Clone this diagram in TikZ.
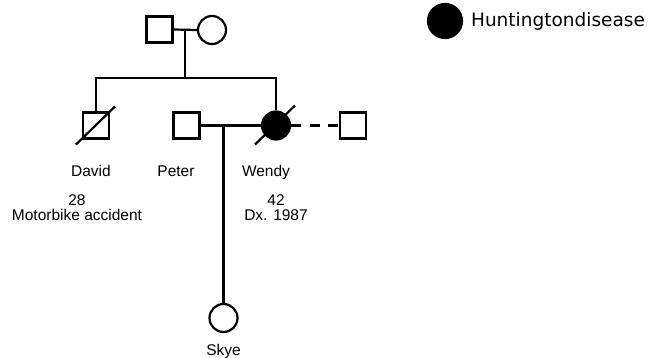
\documentclass[tikz,border=0pt]{standalone}
\usepackage{fontspec}
\setmainfont{Liberation Sans}
\newfontfamily\legendfont{DejaVu Sans}
\begin{document}
\begin{tikzpicture}[x=1pt,y=-1pt,line width=2.2pt,
        male/.style={draw,rectangle,minimum size=26pt,inner sep=0pt},
        female/.style={draw,circle,minimum size=28pt,inner sep=0pt},
        affected/.style={fill=black},
        namelabel/.style={font=\fontsize{15.5}{15}\selectfont,inner sep=0pt,anchor=base},
        infolabel/.style={font=\fontsize{15.5}{15}\selectfont,inner sep=0pt,anchor=north,align=center}]
    \useasboundingbox (0,0) rectangle (650,358);

    %Parents
    \node[male] (Father) at (159.5,29.5) {};
    \node[female] (Mother) at (212,30) {};
    \coordinate (Couple) at (185,30);
    \coordinate (Sibs) at (185,78);
    \draw (Father.east) -- (Mother.west);
    \draw (Couple) -- (Sibs);

    %Children
    \node[male] (David) at (96,125.5) {};
    \node[male] (Peter) at (186.5,125.5) {};
    \node[female,affected] (Wendy) at (276,125.5) {};
    \node[male] (Spouse) at (353,125.5) {};
    \draw (David.north) |- (Sibs) -| (Wendy.north);
    \draw ([shift={(-6,5)}]David.south west) -- ([shift={(5,-5)}]David.north east);
    \draw ([shift={(-21,19)}]Wendy.center) -- ([shift={(19,-20)}]Wendy.center);
    \draw[dash pattern=on 10pt off 8.5pt] (Wendy.east) -- (Spouse.west);

    %Grandchild
    \node[female] (Skye) at (223.5,318) {};
    \coordinate (Union) at (Skye.north |- Peter.east);
    \draw (Peter.east) -- (Wendy.west);
    \draw (Union) -- (Skye.north);

    %Labels
    \node[namelabel] (DavidName) at (91,177) {David};
    \node[namelabel] (PeterName) at (176,177) {Peter};
    \node[namelabel] (WendyName) at (266,177) {Wendy};
    \node[namelabel] (SkyeName) at (223.5,355) {Skye};
    \node[infolabel] (DavidInfo) at (77,194) {28\\Motorbike accident};
    \node[infolabel] (WendyInfo) at (276,194) {42\\Dx. 1987};

    %Legend
    \node[female,affected,minimum size=34pt] (Key) at (445,21) {};
    \node[anchor=base west,inner sep=0pt,font=\legendfont\fontsize{18.5}{20}\selectfont] (KeyText) at (470,27) {Huntingtondisease};
\end{tikzpicture}
\end{document}
